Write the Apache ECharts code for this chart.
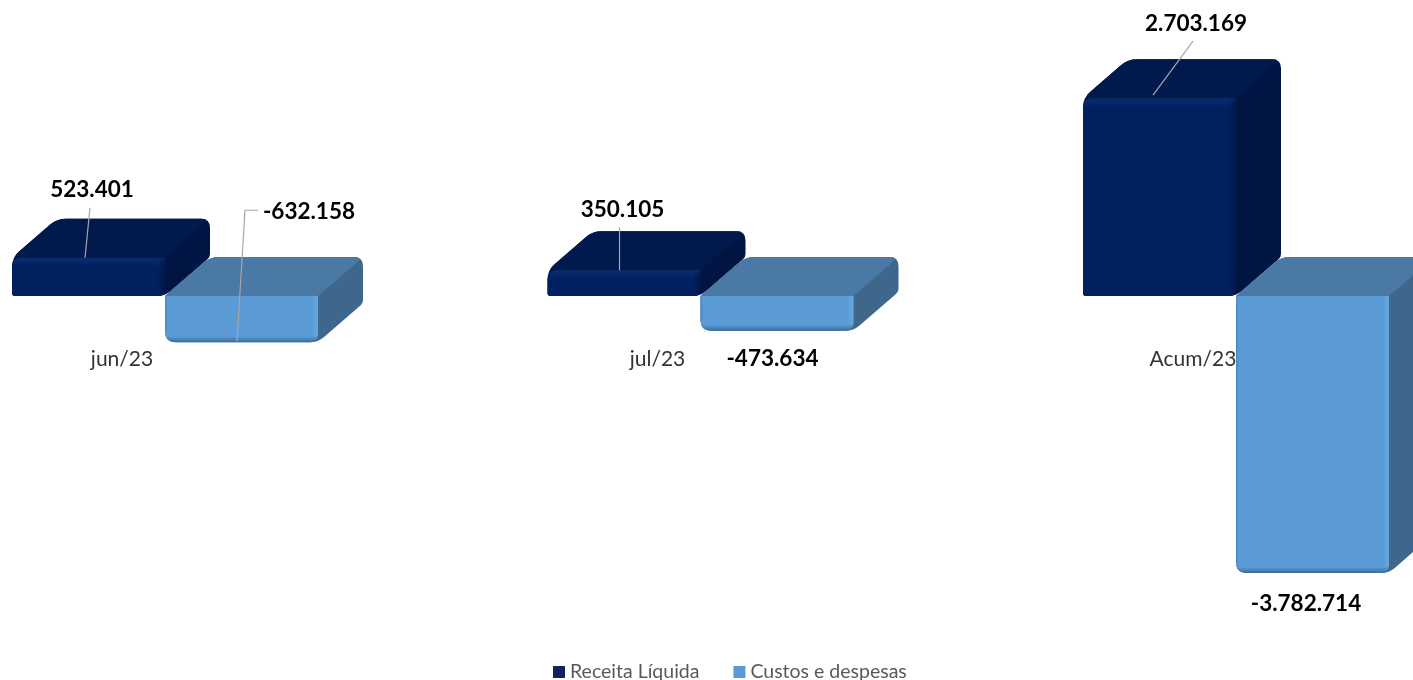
<!DOCTYPE html>
<html>
<head>
<meta charset="utf-8">
<style>html,body{margin:0;padding:0;background:#fff}#c{width:1413px;height:680px}</style>
<script src="https://cdn.jsdelivr.net/npm/echarts@6/dist/echarts.min.js"></script>
</head>
<body>
<div id="c"></div>
<script>
const categories = ['jun/23', 'jul/23', 'Acum/23'];
const receitaLiquida = [523401, 350105, 2703169];
const custosDespesas = [-632158, -473634, -3782714];
const seriesNames = ['Receita Líquida', 'Custos e despesas'];

const FONT = 'Lato, "Open Sans", sans-serif';
const DEPTH_X = 45, DEPTH_Y = 39, BAR_RATIO = 153 / 535.5;
const BAR_START = [-110 / 535.5, 43 / 535.5];
const PALETTE = [
  { front: '#00205f', top: '#001a4e', side: '#001542', lit: '#0b2d70' },
  { front: '#5b9bd5', top: '#4a79a5', side: '#3f678b', lit: '#3a6d9e', glow: 'rgba(125,190,240,0.35)' }
];
// label placement relative to the bar's value end: [label dx, dy], then leader points
const LABEL_PLACE = [
  [
    { at: [3.5, -68], line: [[1.5, -50], [-3.5, 0]] },
    { at: [-1.5, -61], line: [[-4.5, -43], [-4.5, 0]] },
    { at: [36.5, -74], line: [[33.5, -57], [-6.5, -3]] }
  ],
  [
    { at: [67.5, -131], line: [[16.5, -132], [3.5, -132], [-4.5, -1]] },
    { at: [-4.5, 28] },
    { at: [-6.5, 31] }
  ]
];

function formatValue(v) {
  const s = Math.abs(v).toString().replace(/\B(?=(\d{3})+$)/g, '.');
  return (v < 0 ? '-' : '') + s;
}

// outline with rounded corners; pts = [x, y, radius]
function roundedPath(pts) {
  let d = '';
  const n = pts.length;
  for (let i = 0; i < n; i++) {
    const p = pts[i], a = pts[(i + n - 1) % n], b = pts[(i + 1) % n];
    const r = p[2] || 0;
    const la = Math.hypot(a[0] - p[0], a[1] - p[1]) || 1, lb = Math.hypot(b[0] - p[0], b[1] - p[1]) || 1;
    const ra = Math.min(r, la / 2), rb = Math.min(r, lb / 2);
    const sx = p[0] + (a[0] - p[0]) * ra / la, sy = p[1] + (a[1] - p[1]) * ra / la;
    const ex = p[0] + (b[0] - p[0]) * rb / lb, ey = p[1] + (b[1] - p[1]) * rb / lb;
    d += (i ? 'L' : 'M') + sx + ' ' + sy + 'Q' + p[0] + ' ' + p[1] + ' ' + ex + ' ' + ey;
  }
  return d + 'Z';
}

function face(pts, fill) {
  return { type: 'path', shape: { pathData: roundedPath(pts) }, style: { fill: fill } };
}
function strip(x, y, w, h, dir, color) {
  const g = dir === 'left' ? [1, 0, 0, 0] : [0, 0, 1, 0];
  return {
    type: 'rect', shape: { x: x, y: y, width: w, height: h },
    style: { fill: new echarts.graphic.LinearGradient(g[0], g[1], g[2], g[3], [
      { offset: 0, color: color.replace(/[\d.]+\)$/, '0)') }, { offset: 1, color: color }
    ]) }
  };
}

function renderBar(s) {
  return function (params, api) {
    const i = api.value(0), v = api.value(1);
    const band = api.size([1, 0])[0];
    const c = api.coord([i, 0]);
    const ve = api.coord([i, v]);
    const x0 = c[0] + BAR_START[s] * band, x1 = x0 + BAR_RATIO * band;
    const yT = Math.min(c[1], ve[1]), yB = Math.max(c[1], ve[1]);
    const col = PALETTE[s], dx = DEPTH_X, dy = DEPTH_Y;
    const rTL = s === 0 ? 9 : 0, rBL = s === 0 ? 3 : 11, rBR = s === 0 ? 6 : 8;
    const frontFill = s === 0
      ? new echarts.graphic.LinearGradient(0, yT, 0, yT + 9, [{ offset: 0, color: col.lit }, { offset: 1, color: col.front }], true)
      : new echarts.graphic.LinearGradient(0, yB - 6, 0, yB, [{ offset: 0, color: col.front }, { offset: 1, color: col.lit }], true);
    const kids = [
      face([[x0, yT, rTL], [x0 + dx, yT - dy, 9], [x1 + dx, yT - dy, 9], [x1 + dx, yB - dy, 3], [x1, yB, 8], [x0, yB, rBL]], col.side),
      face([[x0, yT, rTL], [x0 + dx, yT - dy, 9], [x1 + dx, yT - dy, 9], [x1, yT, 0]], col.top),
      face([[x0, yT, rTL], [x1, yT, 0], [x1, yB, rBR], [x0, yB, rBL]], frontFill)
    ];
    if (s === 0) {
      kids.push(strip(x1 - 8, yT + 1, 8, yB - yT - 4, 'right', 'rgba(0,15,60,0.5)'));
    } else {
      kids.push(strip(x1 - 7, yT, 7, yB - yT - 6, 'right', col.glow));
      kids.push(strip(x0, yT + 1, 3, yB - yT - 11, 'left', 'rgba(60,110,160,0.45)'));
    }
    const cx = (x0 + x1) / 2;
    const place = LABEL_PLACE[s][i];
    if (place.line) {
      kids.push({
        type: 'polyline', z2: 20,
        shape: { points: place.line.map(p => [cx + p[0], ve[1] + p[1]]) },
        style: { stroke: '#a6a6a6', lineWidth: 1.2, fill: null }
      });
    }
    kids.push({
      type: 'text', z2: 21,
      x: cx + place.at[0], y: ve[1] + place.at[1],
      style: {
        text: formatValue(v), fill: '#000', font: 'bold 22.5px ' + FONT,
        align: 'center', verticalAlign: 'middle'
      }
    });
    return { type: 'group', children: kids };
  };
}

const chart = echarts.init(document.getElementById('c'), null, { renderer: 'canvas' });
chart.setOption({
  animation: false,
  backgroundColor: '#fff',
  grid: { left: -145.75, width: 1606.5, top: 39.8, height: 585.6, containLabel: false, outerBoundsMode: 'none' },
  legend: {
    left: 548, top: 657, itemWidth: 12, itemHeight: 12, itemGap: 34, icon: 'rect',
    textStyle: { color: '#595959', fontFamily: FONT, fontSize: 19.5, lineHeight: 12 },
    data: seriesNames
  },
  xAxis: {
    type: 'category', data: categories, position: 'bottom', offset: -329.4,
    axisLine: { show: false, onZero: false },
    axisTick: { show: false }, splitLine: { show: false },
    axisLabel: { interval: 0, margin: 53, hideOverlap: false, color: '#333333', fontFamily: FONT, fontSize: 21 }
  },
  yAxis: { type: 'value', min: -4500000, max: 3500000, interval: 500000, show: false },
  series: [
    {
      name: seriesNames[0], type: 'custom', renderItem: renderBar(0), clip: false,
      itemStyle: { color: '#0b2560' }, encode: { x: 0, y: 1 },
      data: receitaLiquida.map((v, i) => [i, v])
    },
    {
      name: seriesNames[1], type: 'custom', renderItem: renderBar(1), clip: false,
      itemStyle: { color: '#5b9bd5' }, encode: { x: 0, y: 1 },
      data: custosDespesas.map((v, i) => [i, v])
    }
  ]
});
</script>
</body>
</html>
